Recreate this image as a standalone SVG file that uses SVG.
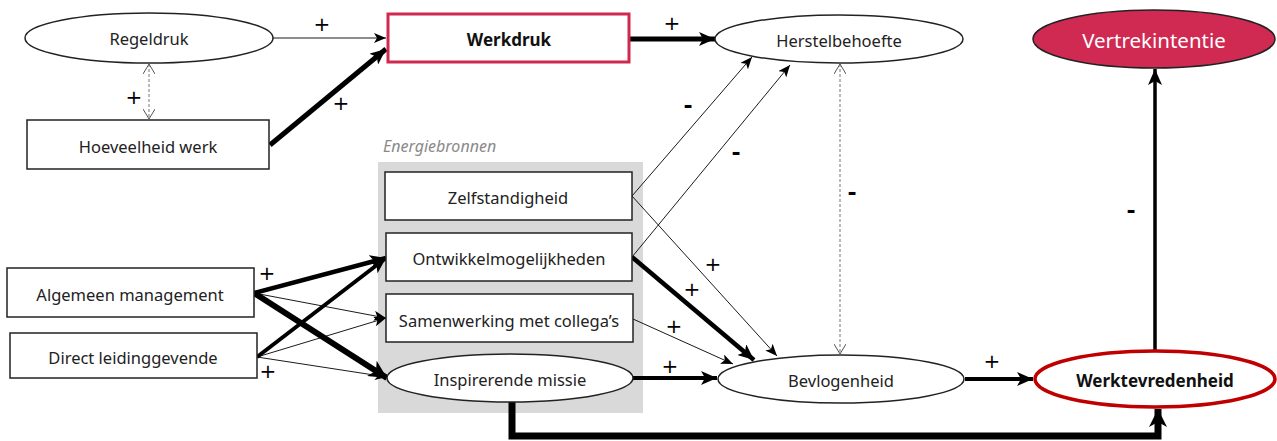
<svg xmlns="http://www.w3.org/2000/svg" width="1277" height="441" viewBox="0 0 1277 441">
<defs>
<style>
.t{font-family:"Noto Sans","Open Sans",sans-serif;font-size:16.5px;fill:#222;text-anchor:middle;dominant-baseline:central}
.b{font-weight:bold;font-size:17px;fill:#111}
.s{font-family:"DejaVu Sans","Liberation Sans",sans-serif;font-size:20px;fill:#000;text-anchor:middle;dominant-baseline:central}
.m{font-weight:bold;font-size:22px}
.box{fill:#fff;stroke:#222;stroke-width:1.5}
.c{fill:none;stroke:#000}
.thin{stroke-width:0.9}
.dash{stroke:#777;stroke-width:1;stroke-dasharray:3 2}
</style>
<marker id="a1" markerUnits="userSpaceOnUse" markerWidth="12" markerHeight="10" viewBox="0 0 12 10" refX="12" refY="5" orient="auto">
<path d="M0,0 L12,5 L0,10 L3,5 z" fill="#000"/>
</marker>
<marker id="a2" markerUnits="userSpaceOnUse" markerWidth="16" markerHeight="14" viewBox="0 0 16 14" refX="16" refY="7" orient="auto">
<path d="M0,0 L16,7 L0,14 L4,7 z" fill="#000"/>
</marker>
<marker id="a3" markerUnits="userSpaceOnUse" markerWidth="18" markerHeight="18" viewBox="0 0 18 18" refX="18" refY="9" orient="auto">
<path d="M0,0 L18,9 L0,18 L5,9 z" fill="#000"/>
</marker>
<marker id="d" markerUnits="userSpaceOnUse" markerWidth="10" markerHeight="12" viewBox="0 0 10 12" refX="10" refY="6" orient="auto-start-reverse">
<path d="M0,0 L10,6 L0,12" fill="none" stroke="#555" stroke-width="1"/>
</marker>
</defs>
<rect width="1277" height="441" fill="#fff"/>

<g id="energiebronnen">
<rect x="378" y="162" width="265" height="251" fill="#d9d9d9"/>
<text x="383" y="146" font-family="Noto Sans,Open Sans,sans-serif" font-size="16" font-style="italic" fill="#8a8a8a" dominant-baseline="central">Energiebronnen</text>
</g>

<g id="connectors">
<line class="c thin" x1="273" y1="38" x2="386" y2="38" marker-end="url(#a1)"/>
<line class="c" stroke-width="5" x1="270" y1="145" x2="386" y2="49" marker-end="url(#a2)"/>
<line class="dash" x1="149" y1="64" x2="149" y2="119" marker-start="url(#d)" marker-end="url(#d)"/>
<line class="c" stroke-width="5" x1="630" y1="39" x2="715" y2="39" marker-end="url(#a2)"/>
<line class="c thin" x1="632" y1="196" x2="752" y2="57" marker-end="url(#a1)"/>
<line class="c thin" x1="632" y1="257" x2="790" y2="65" marker-end="url(#a1)"/>
<line class="dash" x1="840" y1="64" x2="840" y2="354" marker-start="url(#d)" marker-end="url(#d)"/>
<line class="c thin" x1="632" y1="196" x2="777" y2="356" marker-end="url(#a1)"/>
<line class="c" stroke-width="4.5" x1="632" y1="257" x2="754" y2="360" marker-end="url(#a2)"/>
<line class="c thin" x1="633" y1="319" x2="733" y2="364" marker-end="url(#a1)"/>
<line class="c" stroke-width="4" x1="633" y1="378" x2="717" y2="378" marker-end="url(#a2)"/>
<line class="c" stroke-width="4" x1="965" y1="379" x2="1033" y2="379" marker-end="url(#a2)"/>
<line class="c" stroke-width="3.5" x1="1155" y1="350" x2="1155" y2="69" marker-end="url(#a2)"/>
<path class="c" stroke-width="7" d="M512,402 V436 H1158 V409" marker-end="url(#a3)"/>
<line class="c" stroke-width="4.5" x1="254" y1="293" x2="386" y2="258" marker-end="url(#a2)"/>
<line class="c thin" x1="254" y1="293" x2="386" y2="318" marker-end="url(#a1)"/>
<line class="c" stroke-width="6" x1="254" y1="293" x2="387" y2="378" marker-end="url(#a3)"/>
<line class="c" stroke-width="4" x1="257" y1="357" x2="386" y2="258" marker-end="url(#a2)"/>
<line class="c thin" x1="257" y1="357" x2="386" y2="318" marker-end="url(#a1)"/>
<line class="c thin" x1="257" y1="357" x2="387" y2="377" marker-end="url(#a1)"/>
<text class="s" x="322" y="24">+</text>
<text class="s" x="341" y="103">+</text>
<text class="s" x="134" y="97">+</text>
<text class="s" x="672" y="23">+</text>
<text class="s m" x="688" y="105">-</text>
<text class="s m" x="736" y="152">-</text>
<text class="s m" x="852" y="192">-</text>
<text class="s" x="713" y="264">+</text>
<text class="s" x="692" y="289">+</text>
<text class="s" x="674" y="326">+</text>
<text class="s" x="670" y="366">+</text>
<text class="s" x="992" y="361">+</text>
<text class="s m" x="1131" y="210">-</text>
<text class="s" x="267" y="273">+</text>
<text class="s" x="268" y="371">+</text>
</g>

<g id="regeldruk"><ellipse class="box" cx="149" cy="38" rx="124" ry="25"/><text class="t" x="149" y="38">Regeldruk</text></g>
<g id="hoeveelheid-werk"><rect class="box" x="27" y="120" width="242" height="49"/><text class="t" x="148" y="146">Hoeveelheid werk</text></g>
<g id="werkdruk"><rect x="388" y="14" width="241" height="48" fill="#fff" stroke="#d0294f" stroke-width="3"/><text class="t b" x="509" y="39">Werkdruk</text></g>
<g id="herstelbehoefte"><ellipse class="box" cx="839" cy="39" rx="124" ry="24"/><text class="t" x="839" y="40">Herstelbehoefte</text></g>
<g id="vertrekintentie"><ellipse cx="1154" cy="39" rx="121" ry="29" fill="#d12a52" stroke="#222" stroke-width="1.5"/><text class="t" x="1154" y="40" style="fill:#fff;font-size:20.5px">Vertrekintentie</text></g>
<g id="zelfstandigheid"><rect class="box" x="385" y="172" width="247" height="48"/><text class="t" x="508" y="197">Zelfstandigheid</text></g>
<g id="ontwikkelmogelijkheden"><rect class="box" x="386" y="233" width="246" height="48"/><text class="t" x="509" y="258">Ontwikkelmogelijkheden</text></g>
<g id="samenwerking"><rect class="box" x="386" y="294" width="247" height="48"/><text class="t" x="509" y="320">Samenwerking met collega’s</text></g>
<g id="inspirerende-missie"><ellipse class="box" cx="510" cy="378" rx="123" ry="24"/><text class="t" x="510" y="379">Inspirerende missie</text></g>
<g id="algemeen-management"><rect class="box" x="7" y="268" width="247" height="49"/><text class="t" x="130" y="294">Algemeen management</text></g>
<g id="direct-leidinggevende"><rect class="box" x="10" y="333" width="247" height="45"/><text class="t" x="133" y="357">Direct leidinggevende</text></g>
<g id="bevlogenheid"><ellipse class="box" cx="841" cy="379" rx="123" ry="24"/><text class="t" x="841" y="380">Bevlogenheid</text></g>
<g id="werktevredenheid"><ellipse cx="1155" cy="379" rx="120" ry="28" fill="#fff" stroke="#c00000" stroke-width="3.5"/><text class="t b" x="1155" y="380">Werktevredenheid</text></g>
</svg>
